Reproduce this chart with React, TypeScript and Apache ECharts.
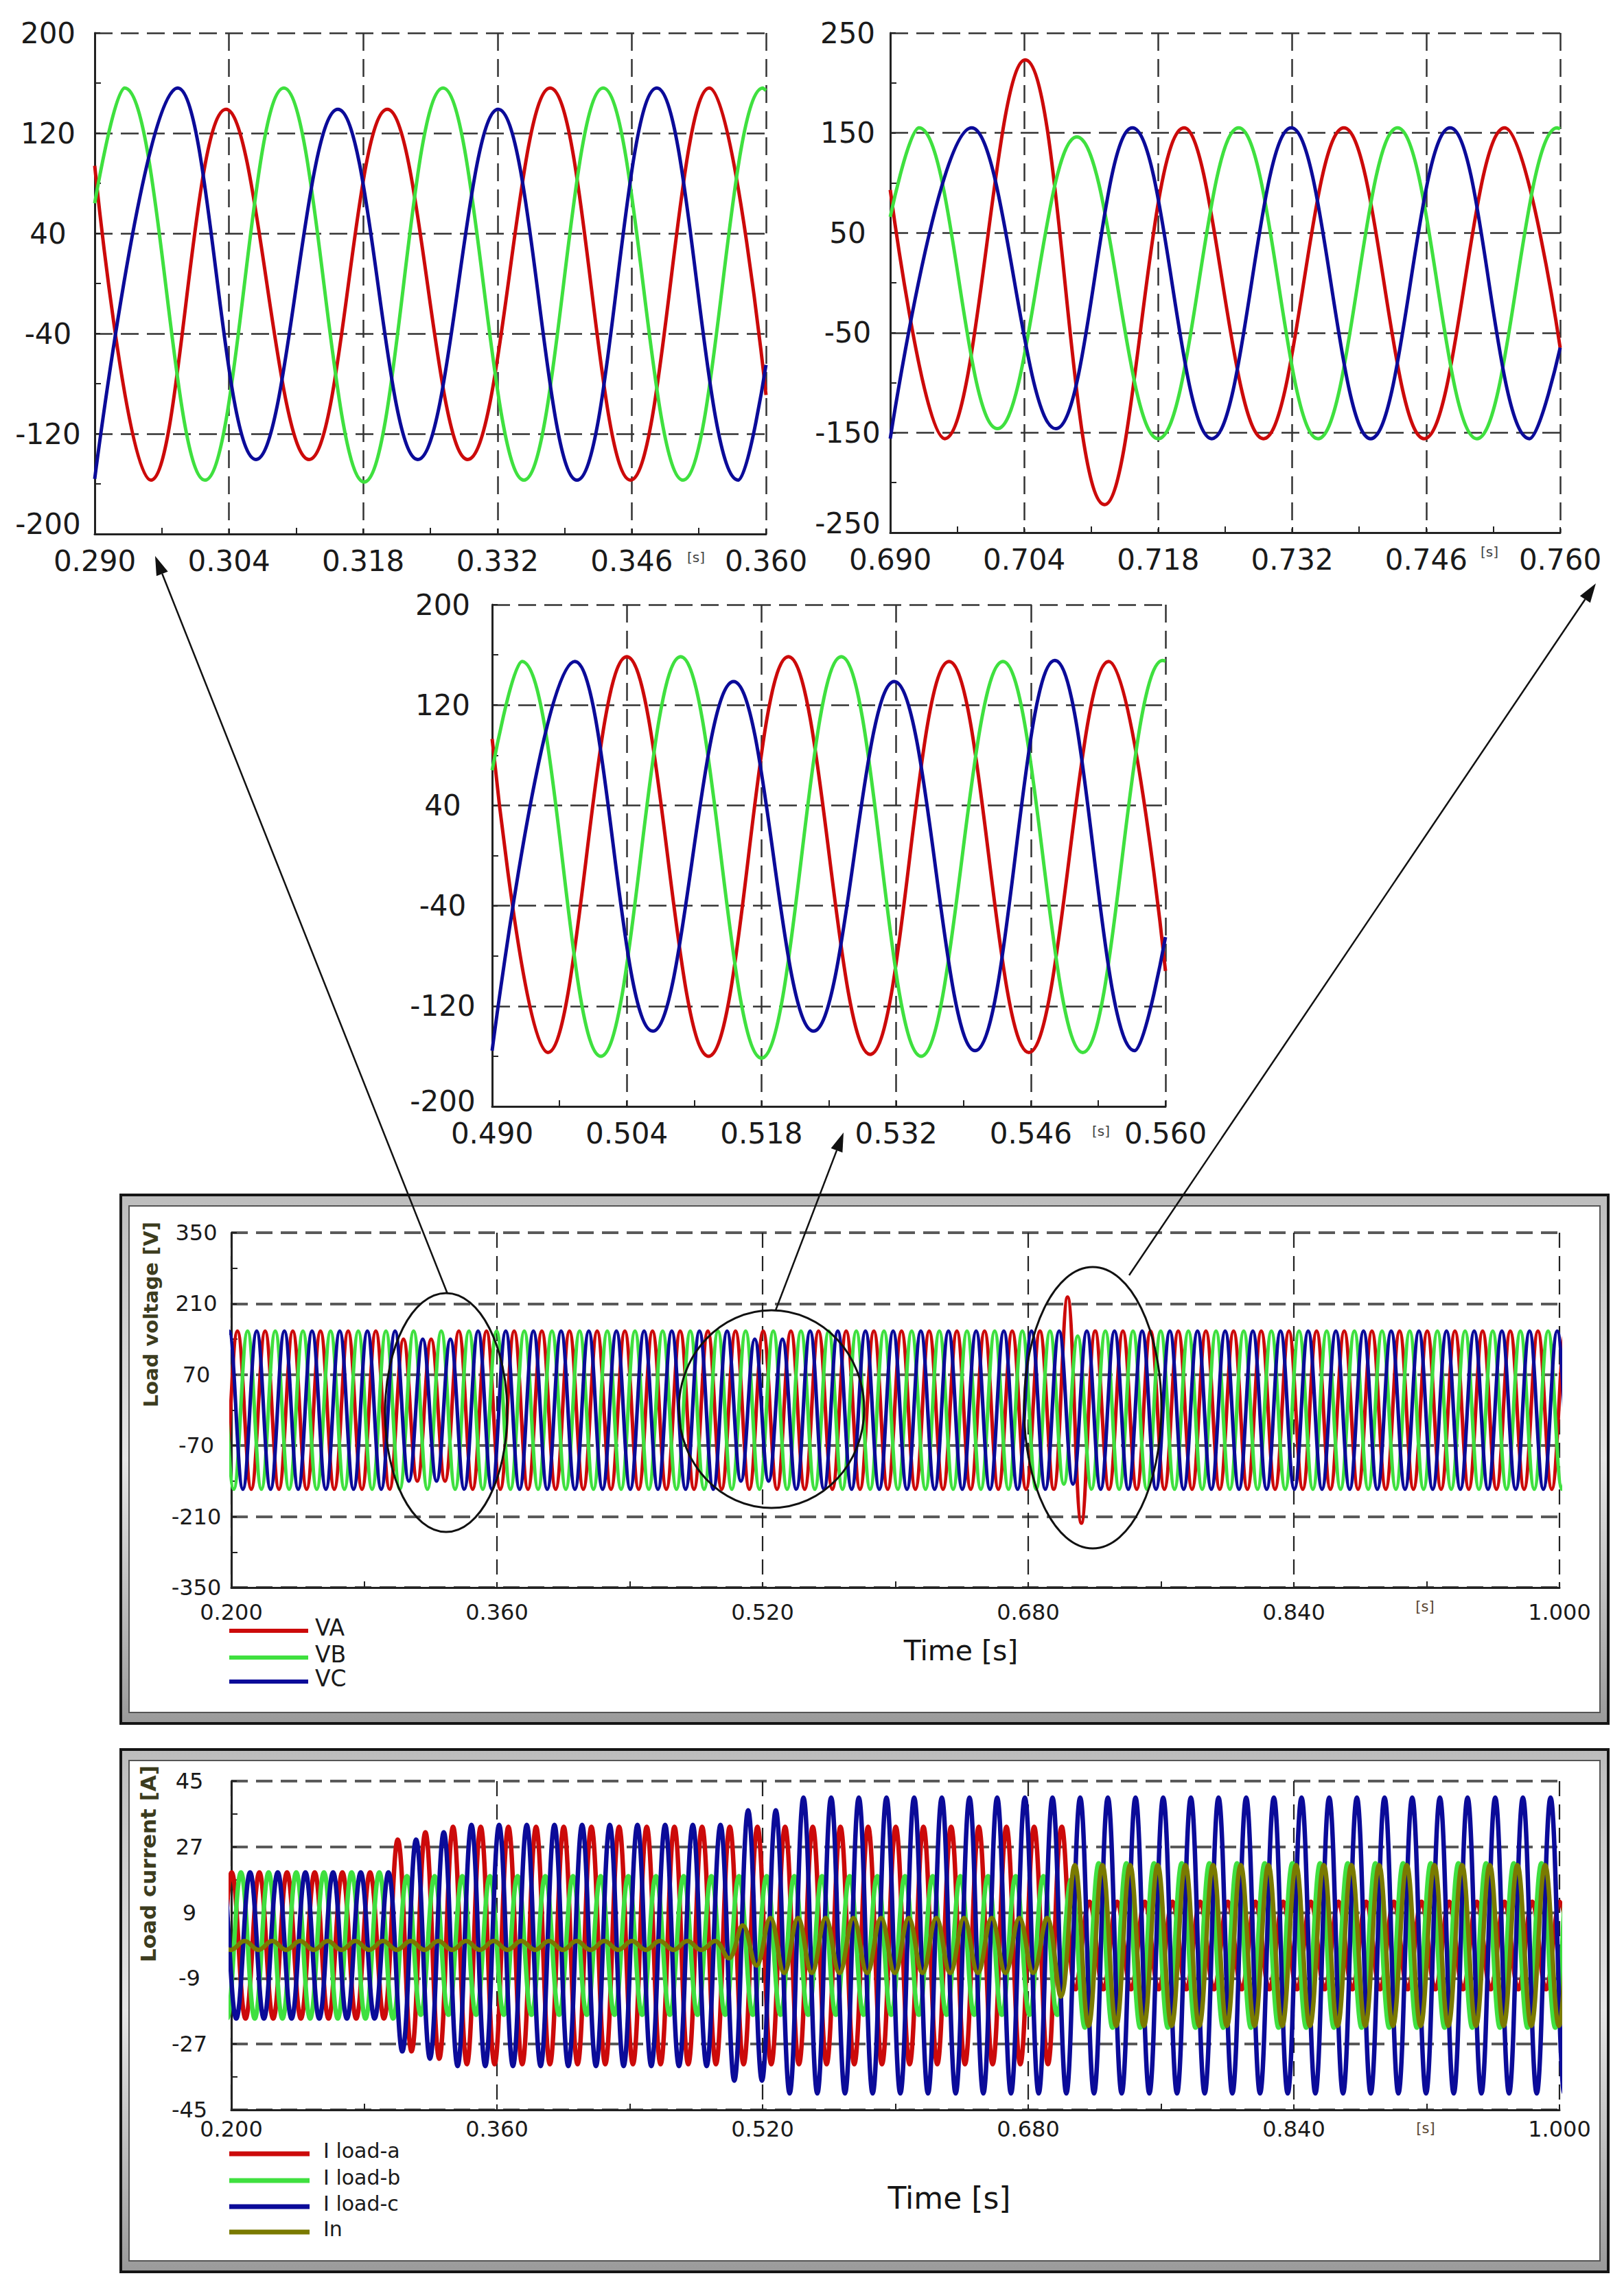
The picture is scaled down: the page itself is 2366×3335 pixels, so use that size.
import React, { useEffect, useRef } from "react";
import * as echarts from "echarts";

// ---------------- DATA ----------------
// Zoom window 1 : 0.290–0.360 s  — [time (s), voltage (V)] ; first/last = window edges, others = extrema
const ZA_VA = [[0.29, 94], [0.29586, -157], [0.30369, 139], [0.31235, -140.5], [0.32051, 139], [0.32889, -140.5], [0.33749, 156], [0.34587, -157], [0.35409, 156], [0.36, -89]];
const ZA_VB = [[0.29, 64], [0.29312, 156], [0.3015, -157], [0.30972, 156], [0.3181, -158.5], [0.32632, 156], [0.33475, -157], [0.34302, 156], [0.35135, -157], [0.35967, 156], [0.36, 154]];
const ZA_VC = [[0.29, -156], [0.29865, 156], [0.30682, -140.5], [0.31536, 139], [0.32369, -140.5], [0.33207, 139], [0.34028, -157], [0.34861, 156], [0.3571, -157], [0.36, -65]];

// Zoom window 2 : 0.490–0.560 s
const ZB_VA = [[0.49, 93], [0.4958, -157], [0.504, 158.5], [0.5125, -160], [0.5208, 158.5], [0.5293, -158.5], [0.5375, 154.7], [0.5458, -157], [0.5541, 154.7], [0.56, -92]];
const ZB_VB = [[0.49, 68], [0.4931, 154.7], [0.5013, -160], [0.5096, 158.5], [0.518, -161.5], [0.5263, 158.5], [0.5346, -160], [0.5431, 154.7], [0.5514, -157], [0.5597, 155.5], [0.56, 155]];
const ZB_VC = [[0.49, -155.6], [0.4986, 154.7], [0.5067, -140], [0.5151, 138.7], [0.5234, -140], [0.5318, 138.7], [0.5402, -155.6], [0.5485, 155.5], [0.5568, -155.6], [0.56, -65]];

// Zoom window 3 : 0.690–0.760 s
const ZC_VA = [[0.69, 93], [0.6957, -156], [0.7041, 223], [0.7124, -222], [0.7207, 155], [0.729, -156], [0.7374, 155], [0.7458, -156], [0.7542, 155], [0.76, -65]];
const ZC_VB = [[0.69, 66], [0.693, 155], [0.7012, -146], [0.7095, 146], [0.718, -156], [0.7264, 155], [0.7347, -156], [0.743, 155], [0.7513, -156], [0.7597, 155], [0.76, 154]];
const ZC_VC = [[0.69, -156], [0.6985, 155], [0.7073, -146], [0.7153, 155], [0.7236, -156], [0.7319, 155], [0.7402, -156], [0.7485, 155], [0.7568, -156], [0.76, -65]];

// Overview 0.2–1.0 s : 60 Hz waves, time of a first positive peak and amplitude envelope [from time (s), peak]
const FREQ = 60;
const V_FIRST_PEAK = [0.2037, 0.2098, 0.2153]; // VA, VB, VC
const VA_ENV = [[0.2, 156], [0.3, 140], [0.333, 156], [0.7, 223], [0.716, 156]];
const VB_ENV = [[0.2, 156], [0.699, 146], [0.711, 156]];
const VC_ENV = [[0.2, 156], [0.304, 140], [0.336, 156], [0.504, 140], [0.535, 156], [0.705, 146], [0.71, 156]];

const I_FIRST_PEAK = [0.2169, 0.2058, 0.2113, 0.208]; // Ia, Ib, Ic, In
const IA_ENV = [[0.2, 20], [0.298, 29], [0.315, 31], [0.33, 32.5], [0.706, 12]];
const IB_ENV = [[0.2, 20], [0.298, 19], [0.7, 18], [0.712, 22.5]];
const IC_ENV = [[0.2, 20], [0.298, 29], [0.315, 31], [0.33, 33], [0.497, 37], [0.532, 40.5]];
const IN_ENV = [[0.2, 1.2], [0.498, 3.5], [0.508, 5.5], [0.52, 7.5], [0.696, 14], [0.708, 22]];

// Axis ticks
const ZA_X = [290, 360, 14];
const ZB_X = [490, 560, 14];
const ZC_X = [690, 760, 14];
const OV_X = [200, 1000, 160];
const Y_200 = [-200, 200, 80];
const Y_250 = [-250, 250, 100];
const Y_350 = [-350, 350, 140];
const Y_45 = [-45, 45, 18];

const V_NAMES = ["VA", "VB", "VC"];
const I_NAMES = ["I load-a", "I load-b", "I load-c", "In"];

// ---------------- STYLE ----------------
const RED = "#cc0a0a";
const GREEN = "#3fe03f";
const BLUE = "#0b0b99";
const OLIVE = "#7a7a00";
const FONT = "DejaVu Sans";

function envAt(env: number[][], t: number) {
  let a = env[0][1];
  for (const [t0, v] of env) if (t >= t0) a = v;
  return a;
}

function wave(firstPeak: number, env: number[][], tMin: number, tMax: number) {
  const half = 0.5 / FREQ;
  const out: number[][] = [];
  const n0 = Math.floor((tMin - firstPeak) / half) - 1;
  const n1 = Math.ceil((tMax - firstPeak) / half) + 1;
  for (let n = n0; n <= n1; n++) {
    const t = firstPeak + n * half;
    const s = ((n % 2) + 2) % 2 === 0 ? 1 : -1;
    out.push([t * 1000, s * envAt(env, t)]);
  }
  return out;
}

const ms = (arr: number[][]) => arr.map(([t, v]) => [t * 1000, v]);

function xAxis(gi: number, r: number[], o: any) {
  return {
    type: "value", gridIndex: gi, min: r[0], max: r[1], interval: r[2],
    axisLine: { show: true, onZero: false, lineStyle: { color: "#222", width: 3 } },
    axisTick: { show: true, inside: true, length: 8, lineStyle: { color: "#222", width: 2 } },
    minorTick: { show: true, splitNumber: 2, length: 9, lineStyle: { color: "#222", width: 2 } },
    splitLine: { show: true, lineStyle: { color: o.gridColor, width: o.gridWidth, type: o.dash } },
    axisLabel: {
      formatter: (v: number) => (v / 1000).toFixed(3),
      fontSize: o.fontSize, fontFamily: FONT, color: "#1a1a1a", margin: o.margin,
    },
  };
}

function yAxis(gi: number, r: number[], o: any) {
  const lift = o.lift || 0;
  return {
    type: "value", gridIndex: gi, min: r[0], max: r[1], interval: r[2],
    axisLine: { show: true, onZero: false, lineStyle: { color: "#222", width: 3 } },
    axisTick: { show: true, inside: true, length: 8, lineStyle: { color: "#222", width: 2 } },
    minorTick: { show: true, splitNumber: 2, length: 9, lineStyle: { color: "#222", width: 2 } },
    splitLine: { show: true, lineStyle: { color: o.gridColor, width: o.gridWidth, type: o.dash } },
    axisLabel: {
      fontSize: o.fontSize, fontFamily: FONT, color: "#1a1a1a", margin: o.margin, align: "center",
      formatter: (v: number) => (lift && v === r[0] ? `{low|${v}}` : `${v}`),
      rich: {
        low: {
          fontSize: o.fontSize, fontFamily: FONT, color: "#1a1a1a",
          padding: [0, 0, lift * 2, 0],
        },
      },
    },
  };
}

function line(gi: number, name: string, data: number[][], color: string, width: number) {
  return {
    type: "line", name, xAxisIndex: gi, yAxisIndex: gi, data,
    showSymbol: false, symbol: "none", smooth: 0.4, silent: true,
    lineStyle: { color, width }, itemStyle: { color },
    emphasis: { disabled: true },
  };
}

function arrow(x1: number, y1: number, x2: number, y2: number) {
  const dx = x2 - x1, dy = y2 - y1, L = Math.hypot(dx, dy);
  const ux = dx / L, uy = dy / L;
  const len = 28, hw = 9;
  const bx = x2 - ux * len, by = y2 - uy * len;
  return [
    { type: "line", z: 100, shape: { x1, y1, x2: bx, y2: by }, style: { stroke: "#111", lineWidth: 2.5 } },
    { type: "polygon", z: 100, shape: { points: [[x2, y2], [bx - uy * hw, by + ux * hw], [bx + uy * hw, by - ux * hw]] }, style: { fill: "#111" } },
  ];
}

function text(x: number, y: number, s: string, size: number, extra: any = {}) {
  return {
    type: "text", z: 100, x, y, rotation: extra.rotation || 0,
    style: {
      text: s, fontSize: size, fontFamily: FONT, fontWeight: extra.weight || "normal",
      fill: extra.color || "#1a1a1a",
      align: extra.align || "center", textAlign: extra.align || "center",
      verticalAlign: "middle", textVerticalAlign: "middle",
    },
  };
}

function frame(x: number, y: number, w: number, h: number) {
  return [
    {
      type: "rect", z: -10, shape: { x, y, width: w, height: h },
      style: {
        fill: new echarts.graphic.LinearGradient(0, 0, 0, 1, [
          { offset: 0, color: "#bdbdbd" }, { offset: 0.5, color: "#e6e6e6" }, { offset: 1, color: "#9a9a9a" },
        ]),
        stroke: "#151515", lineWidth: 4,
      },
    },
    {
      type: "rect", z: -9, shape: { x: x + 12, y: y + 16, width: w - 24, height: h - 32 },
      style: { fill: "#ffffff", stroke: "#555", lineWidth: 2 },
    },
  ];
}

function legendItem(x1: number, x2: number, y: number, color: string, label: string, tx: number, size: number, w: number) {
  return [
    { type: "line", z: 100, shape: { x1, y1: y, x2, y2: y }, style: { stroke: color, lineWidth: w } },
    text(tx, y - 5, label, size, { align: "left" }),
  ];
}

function buildOption() {
  const topStyle = { gridColor: "#333", gridWidth: 2.5, dash: [26, 12], fontSize: 42, margin: 18 };
  const ovX = { gridColor: "#222", gridWidth: 2.2, dash: [22, 12], fontSize: 32, margin: 20 };
  const ovY = { gridColor: "#5a5a5a", gridWidth: 4, dash: [24, 12], fontSize: 32, margin: 51 };

  const grids = [
    { left: 138, top: 48, width: 978, height: 730 },
    { left: 1297, top: 48, width: 976, height: 728 },
    { left: 717, top: 881, width: 981, height: 731 },
    { left: 337, top: 1796, width: 1935, height: 517 },
    { left: 337, top: 2595, width: 1935, height: 479 },
  ];

  const xAxes = [
    xAxis(0, ZA_X, topStyle),
    xAxis(1, ZC_X, topStyle),
    xAxis(2, ZB_X, topStyle),
    xAxis(3, OV_X, ovX),
    xAxis(4, OV_X, { ...ovX, margin: 12 }),
  ];
  const yAxes = [
    yAxis(0, Y_200, { ...topStyle, margin: 68, lift: 15 }),
    yAxis(1, Y_250, { ...topStyle, margin: 62, lift: 14 }),
    yAxis(2, Y_200, { ...topStyle, margin: 72, lift: 8 }),
    yAxis(3, Y_350, ovY),
    yAxis(4, Y_45, { ...ovY, margin: 61 }),
  ];

  const VENV = [VA_ENV, VB_ENV, VC_ENV];
  const VCOL = [RED, GREEN, BLUE];

  const series: any[] = [];
  const zooms = [[ZA_VA, ZA_VB, ZA_VC], [ZC_VA, ZC_VB, ZC_VC], [ZB_VA, ZB_VB, ZB_VC]];
  zooms.forEach((set, gi) => set.forEach((d, k) => series.push(line(gi, V_NAMES[k], ms(d), VCOL[k], 5))));
  VENV.forEach((env, k) => series.push(line(3, V_NAMES[k], wave(V_FIRST_PEAK[k], env, 0.2, 1.0), VCOL[k], 5.2)));
  // drawing order: a, b, c, n (neutral on top)
  series.push(line(4, I_NAMES[0], wave(I_FIRST_PEAK[0], IA_ENV, 0.2, 1.0), RED, 6.5));
  series.push(line(4, I_NAMES[1], wave(I_FIRST_PEAK[1], IB_ENV, 0.2, 1.0), GREEN, 6.5));
  series.push(line(4, I_NAMES[2], wave(I_FIRST_PEAK[2], IC_ENV, 0.2, 1.0), BLUE, 6.5));
  series.push(line(4, I_NAMES[3], wave(I_FIRST_PEAK[3], IN_ENV, 0.2, 1.0), OLIVE, 6.5));

  const graphic: any[] = [
    ...frame(176, 1741, 2167, 770),
    ...frame(176, 2549, 2167, 761),
    // ellipses marking the zoomed windows
    { type: "ellipse", z: 100, shape: { cx: 650, cy: 2058, rx: 89, ry: 174 }, style: { fill: "none", stroke: "#111", lineWidth: 3 } },
    { type: "ellipse", z: 100, shape: { cx: 1124, cy: 2053, rx: 135, ry: 144 }, style: { fill: "none", stroke: "#111", lineWidth: 3 } },
    { type: "ellipse", z: 100, shape: { cx: 1592, cy: 2051, rx: 100, ry: 205 }, style: { fill: "none", stroke: "#111", lineWidth: 3 } },
    ...arrow(652, 1885, 226, 810),
    ...arrow(1130, 1909, 1229, 1650),
    ...arrow(1645, 1858, 2325, 850),
    // unit markers
    text(1014, 812, "[s]", 20, { color: "#444" }),
    text(2170, 804, "[s]", 20, { color: "#444" }),
    text(1604, 1648, "[s]", 20, { color: "#444" }),
    text(2076, 2341, "[s]", 21, { color: "#5a4630" }),
    text(2077, 3101, "[s]", 21, { color: "#5a4630" }),
    // axis titles
    text(1400, 2405, "Time [s]", 41, { color: "#151515" }),
    text(1383, 3202, "Time [s]", 44, { color: "#151515" }),
    text(220, 1780, "Load voltage [V]", 29, { rotation: Math.PI / 2, align: "right", weight: "bold", color: "#3c3c1e" }),
    text(216, 2572, "Load current [A]", 31, { rotation: Math.PI / 2, align: "right", weight: "bold", color: "#3c3c1e" }),
    // legends
    ...legendItem(334, 449, 2376, RED, "VA", 459, 33, 6),
    ...legendItem(334, 449, 2415, GREEN, "VB", 459, 33, 6),
    ...legendItem(334, 449, 2450, BLUE, "VC", 459, 33, 6),
    ...legendItem(334, 451, 3138, RED, "I load-a", 471, 30, 7),
    ...legendItem(334, 451, 3177, GREEN, "I load-b", 471, 30, 7),
    ...legendItem(334, 451, 3215, BLUE, "I load-c", 471, 30, 7),
    ...legendItem(334, 451, 3252, OLIVE, "In", 471, 30, 7),
  ];

  return {
    animation: false,
    backgroundColor: "#ffffff",
    grid: grids,
    xAxis: xAxes,
    yAxis: yAxes,
    series,
    graphic: { elements: graphic },
  };
}

export default function App() {
  const ref = useRef<HTMLDivElement>(null);
  useEffect(() => {
    document.body.style.margin = "0";
    const chart = echarts.init(ref.current as HTMLDivElement, undefined, { renderer: "svg" });
    chart.setOption(buildOption() as any);
    return () => chart.dispose();
  }, []);
  return (
    <div
      ref={ref}
      style={{ position: "absolute", left: 0, top: 0, width: 2366, height: 3335, background: "#fff" }}
    />
  );
}
